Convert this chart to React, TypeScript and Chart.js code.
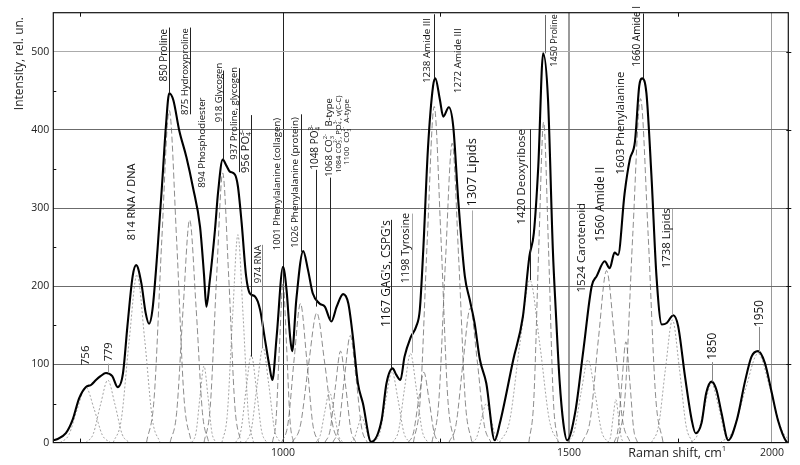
import React, { useEffect, useRef } from "react";
import { Chart, registerables } from "chart.js";

Chart.register(...registerables);

const FONT = "'Open Sans', 'DejaVu Sans', sans-serif";

// axis ticks
const xTicks = [1000, 1500, 2000];
const yTicks = [0, 100, 200, 300, 400, 500];
const xMinorTicks = [750, 1250, 1750];
const yMinorTicks = [50, 150, 250, 350, 450];

// summed spectrum (Raman shift, cm-1 / intensity, rel. un.)
const envelopeShift = [722, 725, 735, 742, 749, 756, 762, 767, 772, 778, 785, 791, 797, 802, 808, 812, 818, 823, 827, 831, 837, 843, 847, 851, 856, 863, 872, 880, 889, 894, 897, 901, 908, 912, 918, 923, 927, 934, 938, 943, 949, 954, 961, 968, 974, 981, 985, 991, 1000, 1005, 1010, 1013, 1019, 1029, 1036, 1043, 1053, 1061, 1071, 1079, 1089, 1097, 1104, 1112, 1120, 1133, 1150, 1158, 1168, 1174, 1181, 1188, 1198, 1208, 1214, 1220, 1228, 1237, 1241, 1249, 1255, 1265, 1273, 1282, 1294, 1303, 1312, 1322, 1334, 1350, 1360, 1386, 1405, 1418, 1427, 1436, 1446, 1456, 1466, 1472, 1480, 1488, 1496, 1513, 1531, 1549, 1560, 1578, 1589, 1600, 1608, 1623, 1635, 1647, 1657, 1664, 1674, 1686, 1698, 1711, 1723, 1739, 1751, 1768, 1785, 1795, 1810, 1822, 1836, 1849, 1862, 1880, 1903, 1925, 1943, 1961, 1980, 1998, 2017, 2042, 2047];
const envelopeIntensity = [3, 4, 12, 29, 57, 71, 74, 80, 85, 89, 85, 71, 89, 149, 213, 227, 204, 166, 152, 170, 247, 340, 405, 447, 438, 400, 365, 327, 276, 215, 174, 204, 272, 320, 362, 354, 347, 343, 328, 281, 213, 191, 187, 170, 136, 97, 80, 136, 225, 195, 136, 117, 183, 245, 221, 191, 178, 174, 155, 174, 190, 178, 136, 76, 50, 1, 29, 76, 95, 87, 80, 110, 134, 149, 170, 247, 375, 456, 466, 439, 417, 429, 404, 310, 213, 183, 153, 106, 76, 3, 25, 106, 161, 238, 268, 353, 498, 439, 247, 170, 80, 25, 3, 38, 119, 200, 213, 232, 223, 243, 240, 319, 362, 385, 456, 466, 447, 341, 213, 151, 153, 163, 149, 85, 29, 12, 25, 63, 78, 67, 38, 3, 29, 78, 110, 117, 102, 67, 29, 1, 0];

// fitted component bands, read as [shift, intensity] points
const componentCurves: number[][][] = [
  [[729, 0], [738, 9.6], [747, 43], [756, 71], [765, 43], [774, 9.6], [783, 0]],
  [[756, 0], [764, 10.8], [772, 48.6], [780, 80], [788, 48.6], [796, 10.8], [804, 0]],
  [[786, 0], [795, 29], [804, 130.5], [813, 215], [822, 130.5], [831, 29], [840, 0]],
  [[824, 0], [833, 57.4], [842, 258], [851, 425], [860, 258], [869, 57.4], [878, 0]],
  [[852, 0], [860, 38.5], [868, 173], [876, 285], [884, 173], [892, 38.5], [900, 0]],
  [[879, 0], [884, 13.2], [889, 59.5], [894, 98], [899, 59.5], [904, 13.2], [909, 0]],
  [[894, 0], [902, 46.6], [910, 209.4], [918, 345], [926, 209.4], [934, 46.6], [942, 0]],
  [[917, 0], [924, 35.9], [931, 161.5], [938, 266], [945, 161.5], [952, 35.9], [959, 0]],
  [[935, 0], [942, 15.1], [949, 68], [956, 112], [963, 68], [970, 15.1], [977, 0]],
  [[948, 0], [956, 16.5], [964, 74], [972, 122], [980, 74], [988, 16.5], [996, 0]],
  [[985, 0], [990, 27.7], [995, 124.4], [1000, 205], [1005, 124.4], [1010, 27.7], [1015, 0]],
  [[998, 0], [1007, 24], [1016, 108], [1025, 178], [1034, 108], [1043, 24], [1052, 0]],
  [[1013, 0], [1025, 22.4], [1037, 100.8], [1049, 166], [1061, 100.8], [1073, 22.4], [1085, 0]],
  [[1047, 0], [1054, 8.8], [1061, 39.5], [1068, 65], [1075, 39.5], [1082, 8.8], [1089, 0]],
  [[1061, 0], [1069, 15.8], [1077, 71], [1085, 117], [1093, 71], [1101, 15.8], [1109, 0]],
  [[1073, 0], [1082, 18.5], [1091, 83.2], [1100, 137], [1109, 83.2], [1118, 18.5], [1127, 0]],
  [[1100, 0], [1106, 4.5], [1112, 20], [1118, 33], [1124, 20], [1130, 4.5], [1136, 0]],
  [[1137, 0], [1147, 12.3], [1157, 55.2], [1167, 91], [1177, 55.2], [1187, 12.3], [1197, 0]],
  [[1168, 0], [1178, 15.4], [1188, 69.2], [1198, 114], [1208, 69.2], [1218, 15.4], [1228, 0]],
  [[1194, 0], [1203, 12.2], [1212, 54.6], [1221, 90], [1230, 54.6], [1239, 12.2], [1248, 0]],
  [[1203, 0], [1215, 58], [1227, 261], [1239, 430], [1251, 261], [1263, 58], [1275, 0]],
  [[1235, 0], [1247, 51.7], [1259, 232.5], [1271, 383], [1283, 232.5], [1295, 51.7], [1307, 0]],
  [[1265, 0], [1278, 23.2], [1291, 104.4], [1304, 172], [1317, 104.4], [1330, 23.2], [1343, 0]],
  [[1307, 0], [1316, 6.8], [1325, 30.4], [1334, 50], [1343, 30.4], [1352, 6.8], [1361, 0]],
  [[1359, 0], [1379, 28.1], [1399, 126.3], [1419, 208], [1439, 126.3], [1459, 28.1], [1479, 0]],
  [[1417, 0], [1427, 55.4], [1437, 248.9], [1447, 410], [1457, 248.9], [1467, 55.4], [1477, 0]],
  [[1496, 0], [1511, 14.3], [1526, 64.3], [1541, 106], [1556, 64.3], [1571, 14.3], [1586, 0]],
  [[1528, 0], [1546, 29.7], [1564, 133.5], [1582, 220], [1600, 133.5], [1618, 29.7], [1636, 0]],
  [[1585, 0], [1591, 7.4], [1597, 33.4], [1603, 55], [1609, 33.4], [1615, 7.4], [1621, 0]],
  [[1599, 0], [1608, 17.4], [1617, 78.3], [1626, 129], [1635, 78.3], [1644, 17.4], [1653, 0]],
  [[1606, 0], [1624, 59.4], [1642, 267], [1660, 440], [1678, 267], [1696, 59.4], [1714, 0]],
  [[1686, 0], [1703, 21.2], [1720, 95.3], [1737, 157], [1754, 95.3], [1771, 21.2], [1788, 0]],
  [[1782, 0], [1800, 10.3], [1818, 46.1], [1836, 76], [1854, 46.1], [1872, 10.3], [1890, 0]],
  [[1859, 0], [1893, 15.4], [1927, 69.2], [1961, 114], [1995, 69.2], [2029, 15.4], [2063, 0]],
];
const componentStyles = ["dot", "dot", "dot", "dash", "dash", "dot", "dash", "dot", "dot", "dot", "dash", "dash", "dash", "dot", "dash", "dash", "dot", "dot", "dot", "dash", "dash", "dash", "dash", "dot", "dot", "dash", "dot", "dash", "dot", "dash", "dash", "dot", "dot", "dot"];

// band assignments: text, shift of text centre, intensity where text starts, font px
const labelTexts = ["756", "779", "814 RNA / DNA", "850 Proline", "875 Hydroxyproline", "894 Phosphodiester", "918 Glycogen", "937 Proline, glycogen", "956 PO_{4}^{3-}", "974 RNA", "1001 Phenylalanine (collagen)", "1026 Phenylalanine (protein)", "1048 PO_{4}^{3-}", "1068 CO_{3}^{2-}   B-type", "1084 CO_{3}^{2-}, PO_{4}^{3-}, ν(C-C)", "1100  CO_{3}^{2-}  A-type", "1167 GAG's, CSPG's", "1198 Tyrosine", "1238 Amide III", "1272 Amide III", "1307 Lipids", "1420 Deoxyribose", "1450 Proline", "1524 Carotenoid", "1560 Amide II", "1603 Phenylalanine", "1660 Amide I", "1738 Lipids", "1850", "1950"];
const labelShift = [756, 781, 807, 845, 871, 892, 913, 933, 949, 965, 992, 1018, 1046, 1068, 1082, 1095, 1158, 1191, 1227, 1282, 1307, 1403, 1470, 1528, 1568, 1614, 1653, 1722, 1838, 1966];
const labelBase = [99, 104, 259, 462, 419, 326, 410, 362, 345, 204, 246, 249, 349, 340, 345, 355, 148, 204, 460, 447, 302, 279, 481, 192, 257, 343, 481, 223, 106, 148];
const labelSize = [11.5, 11, 11, 10, 9.5, 9.7, 9.5, 9.4, 11, 9.5, 9.6, 9.8, 10, 9.5, 7.6, 8, 11.8, 10.8, 9.8, 9.8, 13, 11.4, 9, 11.6, 11.8, 11.3, 10, 11.4, 11.8, 11.7];

// leader lines: shift, from, to, colour
const leaderShift = [780, 851, 877, 918, 939, 955, 971, 1026, 1048, 1069, 1166, 1200, 1238, 1308, 1419, 1450, 1665, 1737, 1836, 1964];
const leaderFrom = [101, 531, 531, 476, 479, 419, 253, 420, 349, 339, 285, 293, 548, 297, 401, 547, 549, 299, 103, 148];
const leaderTo = [89, 447, 420, 362, 346, 110, 121, 244, 174, 155, 95, 115, 466, 174, 208, 498, 466, 163, 78, 116];
const leaderColor = ["#999", "#222", "#222", "#222", "#222", "#222", "#888", "#222", "#222", "#222", "#222", "#aaa", "#222", "#aaa", "#222", "#666", "#222", "#aaa", "#888", "#888"];

type Seg = [string, number];
function parseRich(s: string): Seg[] {
  const out: Seg[] = [];
  const re = /([_^])\{([^}]*)\}/g;
  let last = 0;
  let m: RegExpExecArray | null;
  while ((m = re.exec(s))) {
    if (m.index > last) out.push([s.slice(last, m.index), 0]);
    out.push([m[2], m[1] === "_" ? 1 : 2]);
    last = re.lastIndex;
  }
  if (last < s.length) out.push([s.slice(last), 0]);
  return out;
}

function richWidth(ctx: CanvasRenderingContext2D, text: string, size: number) {
  let pos = 0;
  let subStart = -1;
  for (const [t, mode] of parseRich(text)) {
    if (mode === 0) {
      ctx.font = `${size}px ${FONT}`;
      pos += ctx.measureText(t).width;
      subStart = -1;
    } else {
      ctx.font = `${size * 0.62}px ${FONT}`;
      const w = ctx.measureText(t).width;
      if (mode === 1) { subStart = pos; pos += w; }
      else { const st = subStart >= 0 ? subStart : pos; pos = Math.max(pos, st + w); subStart = -1; }
    }
  }
  return pos;
}

function drawRich(ctx: CanvasRenderingContext2D, text: string, x: number, y: number, size: number, angle: number, color: string) {
  ctx.save();
  ctx.translate(x, y);
  ctx.rotate(angle);
  ctx.textBaseline = "middle";
  ctx.textAlign = "left";
  ctx.fillStyle = color;
  let pos = 0;
  let subStart = -1;
  for (const [t, mode] of parseRich(text)) {
    if (mode === 0) {
      ctx.font = `${size}px ${FONT}`;
      ctx.fillText(t, pos, 0);
      pos += ctx.measureText(t).width;
      subStart = -1;
    } else {
      ctx.font = `${size * 0.62}px ${FONT}`;
      const w = ctx.measureText(t).width;
      if (mode === 1) {
        ctx.fillText(t, pos, size * 0.3);
        subStart = pos;
        pos += w;
      } else {
        const st = subStart >= 0 ? subStart : pos;
        ctx.fillText(t, st, -size * 0.4);
        pos = Math.max(pos, st + w);
        subStart = -1;
      }
    }
  }
  ctx.restore();
}

const decorPlugin = {
  id: "decor",
  afterDatasetsDraw(chart: any) {
    const { ctx, scales } = chart;
    const xs = scales.x;
    const ys = scales.y;
    ctx.save();
    ctx.lineWidth = 1;
    for (let i = 0; i < leaderShift.length; i++) {
      const x = Math.round(xs.getPixelForValue(leaderShift[i])) + 0.5;
      ctx.strokeStyle = leaderColor[i];
      ctx.beginPath();
      ctx.moveTo(x, ys.getPixelForValue(leaderFrom[i]));
      ctx.lineTo(x, ys.getPixelForValue(leaderTo[i]));
      ctx.stroke();
    }
    for (let i = 0; i < labelTexts.length; i++) {
      drawRich(ctx, labelTexts[i], xs.getPixelForValue(labelShift[i]), ys.getPixelForValue(labelBase[i]), labelSize[i], -Math.PI / 2, "#111");
    }
    ctx.restore();
  },
  afterDraw(chart: any) {
    const { ctx, chartArea: ca, scales } = chart;
    const xs = scales.x;
    const ys = scales.y;
    ctx.save();
    ctx.strokeStyle = "#111";
    ctx.lineWidth = 1.2;
    ctx.strokeRect(ca.left, ca.top, ca.right - ca.left, ca.bottom - ca.top);
    ctx.lineWidth = 1;
    for (const v of yMinorTicks) {
      const y = Math.round(ys.getPixelForValue(v)) + 0.5;
      ctx.beginPath(); ctx.moveTo(ca.left, y); ctx.lineTo(ca.left + 3, y); ctx.stroke();
    }
    for (const v of yTicks) {
      if (v === 0) continue;
      const y = Math.round(ys.getPixelForValue(v)) + 0.5;
      ctx.beginPath(); ctx.moveTo(ca.right - 2, y); ctx.lineTo(ca.right + 3, y); ctx.stroke();
    }
    for (const v of xMinorTicks) {
      const x = Math.round(xs.getPixelForValue(v)) + 0.5;
      ctx.beginPath(); ctx.moveTo(x, ca.top); ctx.lineTo(x, ca.top + 4); ctx.stroke();
      ctx.beginPath(); ctx.moveTo(x, ca.bottom); ctx.lineTo(x, ca.bottom - 4); ctx.stroke();
    }
    // axis titles
    const yTitle = "Intensity, rel. un.";
    const ySize = 12;
    const w = richWidth(ctx, yTitle, ySize);
    drawRich(ctx, yTitle, 20, 17 + w, ySize, -Math.PI / 2, "#222");
    drawRich(ctx, "Raman shift, cm^{1}", ca.right - 160, ca.bottom + 11, 12.5, 0, "#222");
    ctx.restore();
  },
};

export default function App() {
  const ref = useRef<HTMLCanvasElement | null>(null);
  useEffect(() => {
    if (!ref.current) return;
    const envelope = envelopeShift.map((x, i) => ({ x, y: envelopeIntensity[i] }));
    const compSets = componentCurves.map((pts, i) => ({
      data: pts.map(([x, y]) => ({ x, y })),
      borderColor: componentStyles[i] === "dash" ? "#6e6e6e" : "#8c8c8c",
      borderWidth: 0.8,
      borderDash: componentStyles[i] === "dash" ? [6, 3] : [2, 2],
      pointRadius: 0,
      cubicInterpolationMode: "monotone" as const,
      fill: false,
      order: 1,
    }));
    const chart = new Chart(ref.current, {
      type: "line",
      data: {
        datasets: [
          {
            data: envelope,
            borderColor: "#000",
            borderWidth: 2.1,
            pointRadius: 0,
            cubicInterpolationMode: "monotone",
            fill: false,
            order: 0,
          } as any,
          ...compSets,
        ],
      },
      options: {
        animation: false,
        responsive: false,
        maintainAspectRatio: false,
        devicePixelRatio: 1,
        layout: { padding: { top: 12.7, right: 11.7, left: 0, bottom: 0 } },
        plugins: { legend: { display: false }, tooltip: { enabled: false } },
        scales: {
          x: {
            type: "logarithmic",
            min: 722,
            max: 2047,
            afterBuildTicks: (s: any) => { s.ticks = xTicks.map((v) => ({ value: v })); },
            afterFit: (s: any) => { s.height = 22.4; },
            ticks: {
              callback: (v: any) => String(v),
              font: { family: FONT, size: 10.5 },
              color: "#222",
              padding: 4,
              maxRotation: 0,
              autoSkip: false,
            },
            grid: {
              drawTicks: false,
              color: (c: any) => (c.tick && c.tick.value === 1000 ? "#222" : "#9a9a9a"),
              lineWidth: (c: any) => (c.tick && c.tick.value === 1500 ? 2 : 1),
            },
            border: { display: false },
          } as any,
          y: {
            min: 0,
            max: 550,
            afterBuildTicks: (s: any) => { s.ticks = yTicks.map((v) => ({ value: v })); },
            afterFit: (s: any) => { s.width = 53.3; },
            ticks: {
              font: { family: FONT, size: 10.5 },
              color: "#222",
              padding: 4,
            },
            grid: {
              drawTicks: false,
              color: (c: any) => (c.tick && c.tick.value === 0 ? "rgba(0,0,0,0)" : c.tick && c.tick.value === 500 ? "#ababab" : "#6b6b6b"),
              lineWidth: 1,
            },
            border: { display: false },
          } as any,
        },
      },
      plugins: [decorPlugin],
    });
    return () => chart.destroy();
  }, []);
  return (
    <div style={{ position: "fixed", left: 0, top: 0, width: 800, height: 465, background: "#fff" }}>
      <canvas ref={ref} width={800} height={465} style={{ display: "block" }} />
    </div>
  );
}
